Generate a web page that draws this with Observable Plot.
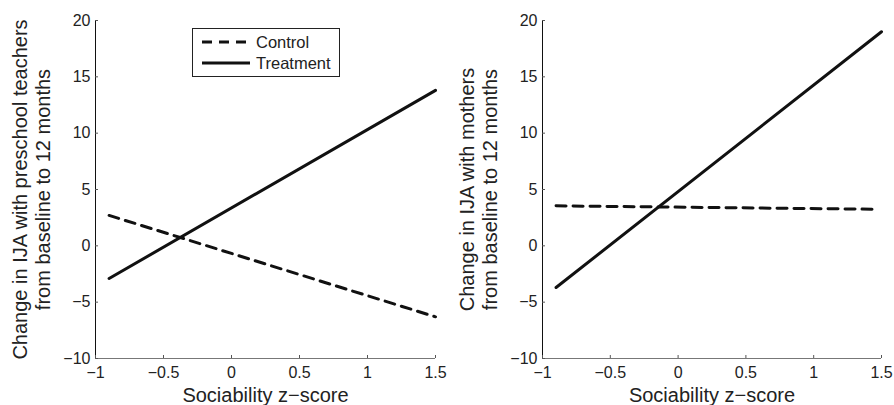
<!DOCTYPE html>
<html>
<head>
<meta charset="utf-8">
<script src="https://cdn.jsdelivr.net/npm/d3@7"></script>
<script src="https://cdn.jsdelivr.net/npm/@observablehq/plot@0.6"></script>
<style>
  body { margin: 0; background: #fff; }
  #wrap { position: relative; width: 894px; height: 405px; display: flex; font-family: "Liberation Sans", Arial, sans-serif; }
  #legend { position: absolute; left: 192px; top: 28px; }
</style>
</head>
<body>
<div id="wrap"></div>
<script>
// ---- data ----
const groups = ["Control", "Treatment"];
const xTicks = [-1, -0.5, 0, 0.5, 1, 1.5];
const yTicks = [-10, -5, 0, 5, 10, 15, 20];
const xDomain = [-1, 1.5];
const yDomain = [-10, 20];

// left panel: preschool teachers
const teachersControlX = [-0.9, 1.5];
const teachersControlY = [2.7, -6.3];
const teachersTreatmentX = [-0.9, 1.5];
const teachersTreatmentY = [-2.9, 13.8];

// right panel: mothers
const mothersControlX = [-0.9, 1.43];
const mothersControlY = [3.55, 3.25];
const mothersTreatmentX = [-0.9, 1.5];
const mothersTreatmentY = [-3.7, 19.0];

const yLabels = [
  "Change in IJA with preschool teachers\nfrom baseline to 12 months",
  "Change in IJA with mothers\nfrom baseline to 12 months"
];
const xLabel = "Sociability z\u2212score";

function toRows(xs, ys, group) {
  return xs.map((x, i) => ({x, y: ys[i], group}));
}

const fmt = d => String(d).replace("-", "\u2212");

function panel(rowsControl, rowsTreatment, yLabel, marginRight) {
  return Plot.plot({
    width: 447,
    height: 405,
    marginLeft: 95,
    marginRight,
    marginTop: 20,
    marginBottom: 47,
    style: {fontFamily: "Liberation Sans, Arial, sans-serif", color: "#222", background: "transparent"},
    x: {domain: xDomain},
    y: {domain: yDomain},
    marks: [
      Plot.ruleX([xDomain[0]], {stroke: "#111", strokeWidth: 1}),
      Plot.ruleY([yDomain[0]], {stroke: "#777", strokeWidth: 1.2}),
      Plot.axisY(yTicks, {anchor: "left", tickSize: -3, tickPadding: 8, tickFormat: fmt, fontSize: 16, stroke: "#555", label: null}),
      Plot.axisX(xTicks, {anchor: "bottom", tickSize: -3, tickPadding: 11, tickFormat: fmt, fontSize: 16, stroke: "#555", label: null}),
      Plot.line(rowsControl, {x: "x", y: "y", stroke: "#111", strokeWidth: 3, strokeDasharray: "10,7"}),
      Plot.line(rowsTreatment, {x: "x", y: "y", stroke: "#111", strokeWidth: 3}),
      Plot.text([yLabel], {text: d => d, frameAnchor: "left", rotate: -90, dx: -64, fontSize: 20, lineHeight: 1.15, textAnchor: "middle", lineAnchor: "middle", fill: "#222"}),
      Plot.text([xLabel], {text: d => d, frameAnchor: "bottom", dy: 37, fontSize: 20, textAnchor: "middle", lineAnchor: "middle", fill: "#222"})
    ]
  });
}

const wrap = document.getElementById("wrap");
wrap.append(panel(
  toRows(teachersControlX, teachersControlY, groups[0]),
  toRows(teachersTreatmentX, teachersTreatmentY, groups[1]),
  yLabels[0], 12));
wrap.append(panel(
  toRows(mothersControlX, mothersControlY, groups[0]),
  toRows(mothersTreatmentX, mothersTreatmentY, groups[1]),
  yLabels[1], 13));

// legend
const leg = d3.select("#wrap").append("div").attr("id", "legend");
const svg = leg.append("svg").attr("width", 148).attr("height", 49);
svg.append("rect").attr("x", 0.5).attr("y", 0.5).attr("width", 147).attr("height", 48)
  .attr("fill", "#fff").attr("stroke", "#222").attr("stroke-width", 1);
groups.forEach((g, i) => {
  const cy = 14 + i * 21;
  svg.append("line").attr("x1", 10).attr("x2", 58).attr("y1", cy).attr("y2", cy)
    .attr("stroke", "#111").attr("stroke-width", 3)
    .attr("stroke-dasharray", i === 0 ? "10,7" : null);
  svg.append("text").attr("x", 64).attr("y", cy).attr("dy", "0.35em")
    .attr("font-size", 16.5).attr("fill", "#222")
    .attr("font-family", "Liberation Sans, Arial, sans-serif").text(g);
});
</script>
</body>
</html>
